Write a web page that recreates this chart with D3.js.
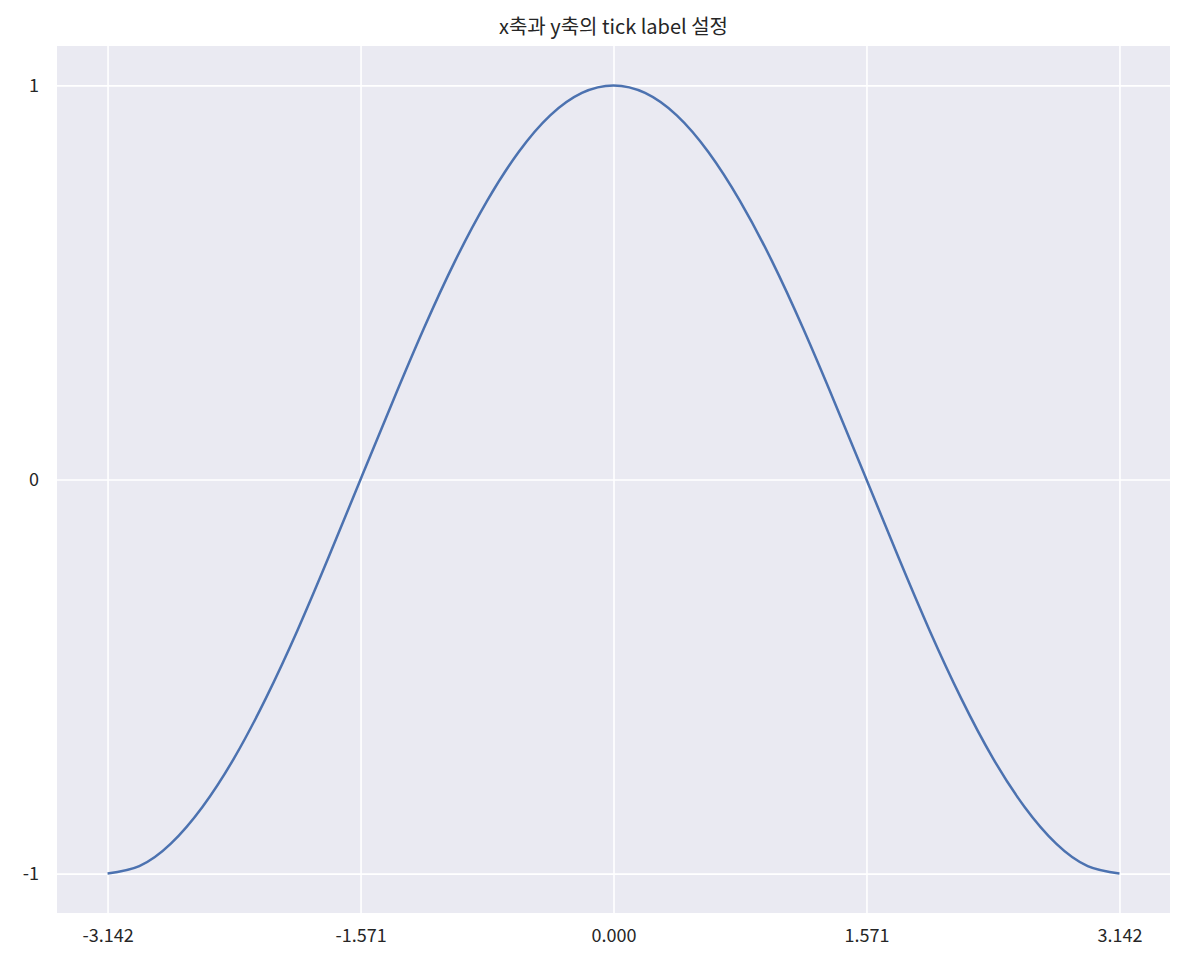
<!DOCTYPE html>
<html>
<head>
<meta charset="utf-8">
<script src="https://cdn.jsdelivr.net/npm/d3@7"></script>
<style>
  body { margin: 0; background: #fff; }
  text { font-family: "Noto Sans CJK KR", "Noto Sans", sans-serif; fill: #262626; }
</style>
</head>
<body>
<svg width="1185" height="968"></svg>
<script>
// values
const xValues = [-3.142, -2.945, -2.749, -2.553, -2.356, -2.160, -1.963, -1.767, -1.571,
  -1.374, -1.178, -0.982, -0.785, -0.589, -0.393, -0.196, 0,
  0.196, 0.393, 0.589, 0.785, 0.982, 1.178, 1.374, 1.571,
  1.767, 1.963, 2.160, 2.356, 2.553, 2.749, 2.945, 3.142];
const yValues = [-1, -0.981, -0.924, -0.831, -0.707, -0.556, -0.383, -0.195, 0,
  0.195, 0.383, 0.556, 0.707, 0.831, 0.924, 0.981, 1,
  0.981, 0.924, 0.831, 0.707, 0.556, 0.383, 0.195, 0,
  -0.195, -0.383, -0.556, -0.707, -0.831, -0.924, -0.981, -1];
const xTicks = [-3.142, -1.571, 0, 1.571, 3.142];
const xTickLabels = ['-3.142', '-1.571', '0.000', '1.571', '3.142'];
const yTicks = [-1, 0, 1];
const yTickLabels = ['-1', '0', '1'];

const plotLeft = 57, plotRight = 1170, plotTop = 46, plotBottom = 913;
const svg = d3.select('svg');

const x = d3.scaleLinear().domain([-3.142 - 0.314, 3.142 + 0.314]).range([plotLeft, plotRight]);
const y = d3.scaleLinear().domain([-1.1, 1.1]).range([plotBottom, plotTop]);

svg.append('rect')
  .attr('x', plotLeft).attr('y', plotTop)
  .attr('width', plotRight - plotLeft).attr('height', plotBottom - plotTop)
  .attr('fill', '#eaeaf2');

const xAxis = svg.append('g')
  .attr('transform', `translate(0,${plotBottom})`)
  .call(d3.axisBottom(x).tickValues(xTicks).tickFormat((d, i) => xTickLabels[i]).tickSize(-(plotBottom - plotTop)).tickPadding(16));
const yAxis = svg.append('g')
  .attr('transform', `translate(${plotLeft},0)`)
  .call(d3.axisLeft(y).tickValues(yTicks).tickFormat((d, i) => yTickLabels[i]).tickSize(-(plotRight - plotLeft)).tickPadding(18));

[xAxis, yAxis].forEach(g => {
  g.select('.domain').remove();
  g.selectAll('.tick line').attr('stroke', '#fff').attr('stroke-width', 1.6);
  g.selectAll('.tick text').attr('font-size', 18).style('fill', '#262626')
    .style('font-family', '"Noto Sans CJK KR", "Noto Sans", sans-serif');
});

const points = xValues.map((v, i) => [v, yValues[i]]);
svg.append('path')
  .datum(points)
  .attr('fill', 'none')
  .attr('stroke', '#4c72b0')
  .attr('stroke-width', 2.5)
  .attr('d', d3.line().x(d => x(d[0])).y(d => y(d[1])).curve(d3.curveNatural));

svg.append('text')
  .attr('x', (plotLeft + plotRight) / 2).attr('y', 34)
  .attr('text-anchor', 'middle')
  .attr('font-size', 20)
  .text('x축과 y축의 tick label 설정');
</script>
</body>
</html>
